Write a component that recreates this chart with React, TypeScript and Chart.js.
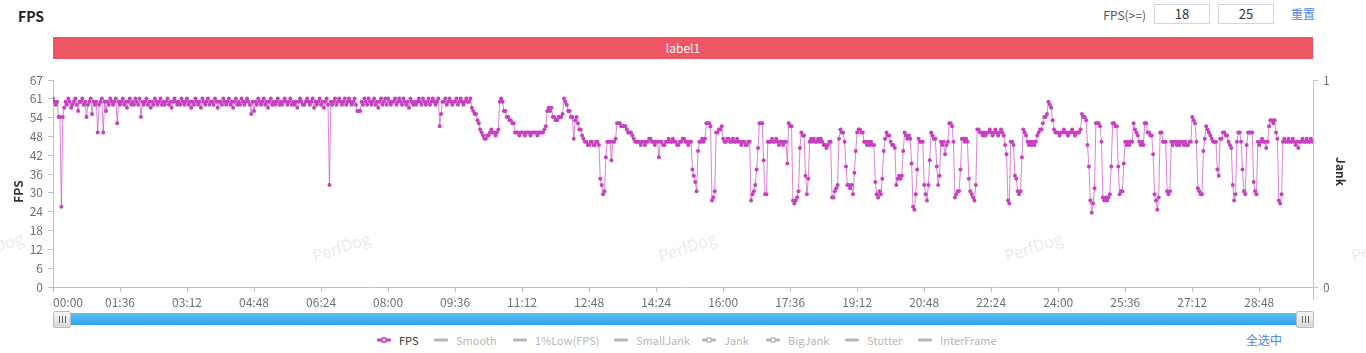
import React, { useEffect, useRef } from 'react';
import { Chart, registerables } from 'chart.js';

Chart.register(...registerables);

const FONT = '"Noto Sans CJK SC", "Noto Sans", sans-serif';

// ---------- data ----------
const SAMPLE_SECONDS = 2;
const X_MAX_SECONDS = 1805;

const X_TICK_SECONDS = [0, 96, 192, 288, 384, 480, 576, 672, 768, 864, 960, 1056, 1152, 1248, 1344, 1440, 1536, 1632, 1728];
const X_TICK_LABELS = ['00:00', '01:36', '03:12', '04:48', '06:24', '08:00', '09:36', '11:12', '12:48', '14:24', '16:00', '17:36', '19:12', '20:48', '22:24', '24:00', '25:36', '27:12', '28:48'];

const FPS_MAX = 67;
const FPS_TICK_LABELS = ['0', '6', '12', '18', '24', '30', '36', '42', '48', '54', '61', '67'];
const JANK_TICK_LABELS = ['0', '1'];

// one value every 2 seconds
const FPS_VALUES = [
  61, 60, 59, 60, 55, 55, 26, 55, 58, 60, 59, 61, 60, 58, 59, 60, 61, 59, 57, 60,
  60, 61, 59, 60, 55, 59, 60, 61, 56, 60, 59, 60, 50, 59, 60, 61, 50, 60, 57, 60,
  59, 61, 60, 59, 60, 61, 53, 60, 59, 60, 61, 59, 60, 58, 60, 61, 59, 60, 59, 61,
  60, 59, 61, 55, 60, 59, 60, 61, 59, 60, 58, 60, 59, 61, 60, 59, 60, 61, 59, 60,
  59, 60, 61, 59, 60, 58, 60, 61, 60, 59, 60, 59, 61, 60, 59, 60, 61, 59, 60, 58,
  60, 59, 61, 60, 59, 60, 58, 61, 60, 59, 60, 61, 59, 60, 60, 59, 61, 60, 58, 60,
  60, 59, 61, 60, 59, 60, 61, 59, 60, 58, 60, 61, 59, 60, 59, 61, 60, 59, 60, 61,
  60, 59, 56, 60, 57, 60, 59, 61, 60, 59, 60, 61, 59, 60, 58, 60, 61, 59, 60, 59,
  60, 61, 59, 60, 59, 60, 61, 60, 59, 60, 61, 59, 60, 59, 60, 58, 60, 61, 60, 59,
  59, 60, 61, 60, 59, 60, 61, 58, 60, 59, 60, 61, 59, 60, 58, 60, 61, 59, 33, 60,
  59, 60, 61, 59, 60, 61, 60, 59, 60, 61, 59, 60, 61, 60, 59, 60, 61, 59, 57, 57,
  57, 60, 59, 61, 60, 59, 61, 60, 59, 60, 61, 59, 60, 58, 60, 61, 59, 60, 61, 59,
  61, 60, 59, 60, 60, 61, 59, 60, 61, 60, 59, 61, 60, 59, 60, 58, 61, 60, 59, 60,
  59, 60, 61, 60, 59, 61, 60, 59, 60, 61, 59, 60, 61, 60, 59, 60, 61, 52, 56, 60,
  60, 61, 59, 60, 61, 60, 59, 60, 60, 61, 59, 60, 61, 60, 59, 60, 61, 60, 60, 61,
  58, 57, 56, 56, 54, 53, 51, 50, 49, 48, 48, 49, 49, 50, 51, 50, 50, 49, 50, 51,
  60, 61, 60, 57, 57, 55, 55, 54, 54, 53, 53, 50, 50, 50, 49, 50, 50, 50, 49, 50,
  50, 50, 49, 50, 50, 50, 50, 49, 50, 50, 50, 50, 51, 52, 57, 58, 57, 58, 55, 55,
  54, 54, 55, 55, 55, 56, 61, 60, 59, 57, 57, 55, 55, 48, 54, 55, 53, 51, 51, 49,
  48, 47, 47, 46, 46, 47, 47, 46, 46, 47, 47, 46, 35, 33, 30, 31, 42, 47, 47, 47,
  41, 47, 47, 48, 53, 53, 53, 52, 52, 52, 52, 51, 50, 50, 50, 49, 48, 47, 47, 47,
  47, 46, 47, 47, 46, 47, 47, 48, 48, 47, 47, 46, 47, 47, 42, 47, 47, 46, 46, 47,
  47, 48, 47, 47, 48, 47, 47, 46, 46, 47, 47, 48, 48, 47, 47, 46, 47, 47, 38, 36,
  34, 31, 44, 47, 47, 48, 47, 48, 53, 53, 53, 52, 28, 29, 31, 50, 50, 51, 51, 52,
  48, 47, 47, 48, 48, 47, 47, 48, 47, 47, 48, 47, 47, 46, 47, 47, 46, 46, 47, 47,
  28, 30, 31, 33, 38, 45, 53, 53, 53, 41, 30, 30, 47, 47, 47, 48, 47, 47, 48, 47,
  46, 47, 47, 46, 47, 47, 40, 53, 52, 52, 28, 27, 28, 29, 31, 45, 50, 49, 49, 36,
  30, 35, 47, 48, 47, 48, 47, 47, 48, 47, 48, 47, 46, 46, 45, 46, 47, 47, 29, 29,
  31, 32, 33, 48, 51, 50, 50, 47, 39, 33, 33, 32, 33, 30, 37, 44, 50, 51, 51, 50,
  50, 47, 47, 46, 47, 46, 47, 46, 46, 34, 30, 29, 31, 30, 35, 44, 48, 50, 49, 49,
  47, 46, 46, 45, 33, 35, 36, 35, 36, 44, 50, 49, 48, 49, 48, 40, 26, 25, 30, 38,
  48, 47, 47, 47, 33, 30, 28, 33, 41, 50, 49, 48, 48, 39, 33, 36, 47, 46, 47, 43,
  46, 47, 53, 53, 52, 47, 29, 30, 31, 31, 38, 48, 48, 47, 48, 47, 35, 31, 30, 29,
  28, 33, 51, 51, 50, 50, 49, 50, 49, 50, 50, 51, 50, 49, 50, 51, 50, 49, 50, 51,
  50, 49, 46, 43, 28, 27, 47, 47, 46, 36, 35, 31, 30, 31, 42, 51, 50, 49, 47, 46,
  47, 46, 47, 46, 47, 49, 50, 51, 51, 53, 55, 55, 56, 60, 59, 58, 54, 51, 50, 50,
  50, 49, 50, 50, 51, 50, 50, 49, 50, 50, 51, 50, 49, 50, 50, 50, 51, 56, 55, 55,
  54, 46, 39, 28, 24, 27, 32, 53, 53, 53, 52, 47, 29, 28, 29, 28, 29, 30, 39, 53,
  53, 52, 52, 39, 30, 31, 31, 40, 47, 46, 47, 46, 47, 47, 53, 51, 50, 49, 47, 46,
  47, 46, 53, 53, 50, 50, 49, 49, 43, 30, 28, 25, 29, 50, 50, 47, 47, 47, 31, 30,
  31, 47, 46, 47, 47, 46, 47, 46, 47, 47, 46, 47, 46, 46, 47, 47, 55, 54, 53, 47,
  32, 31, 30, 30, 44, 48, 52, 51, 50, 49, 48, 47, 47, 47, 38, 36, 48, 48, 50, 50,
  49, 49, 47, 46, 45, 33, 28, 30, 47, 50, 50, 47, 38, 31, 30, 46, 50, 50, 50, 50,
  34, 31, 30, 47, 46, 47, 48, 47, 47, 45, 47, 52, 54, 54, 53, 54, 50, 48, 28, 27,
  30, 47, 48, 47, 47, 48, 47, 47, 48, 47, 46, 47, 45, 47, 47, 48, 47, 47, 48, 47, 47, 48, 47,
];

const LEGEND_NAMES = ['FPS', 'Smooth', '1%Low(FPS)', 'SmallJank', 'Jank', 'BigJank', 'Stutter', 'InterFrame'];
const LEGEND_ACTIVE = [true, false, false, false, false, false, false, false];
const LEGEND_DOT = [true, false, false, false, true, true, false, false];
const LEGEND_LEFT = [377, 434, 513, 614, 702, 766, 845, 918];

const WATERMARK_TEXT = 'PerfDog';

// ---------- colours ----------
const FPS_COLOR = '#c640bf';
const FPS_LINE = 'rgba(204, 80, 196, 0.7)';
const AXIS_COLOR = '#bcc1cd';
const TICK_TEXT = '#6e7079';

const axisExtras = {
  id: 'axisExtras',
  afterDraw(chart: any) {
    const { ctx, chartArea } = chart;
    const { left, right, top, bottom } = chartArea;
    ctx.save();
    ctx.strokeStyle = AXIS_COLOR;
    ctx.lineWidth = 1;
    ctx.beginPath();
    ctx.moveTo(Math.round(right) + 0.5, bottom);
    ctx.lineTo(Math.round(right) + 0.5, bottom + 13);
    ctx.stroke();
    ctx.font = `bold 12px ${FONT}`;
    ctx.fillStyle = '#333';
    ctx.textAlign = 'center';
    ctx.textBaseline = 'middle';
    const mid = (top + bottom) / 2;
    ctx.save();
    ctx.translate(left - 35, mid + 8);
    ctx.rotate(-Math.PI / 2);
    ctx.fillText('FPS', 0, 0);
    ctx.restore();
    ctx.save();
    ctx.translate(right + 28, mid - 12);
    ctx.rotate(Math.PI / 2);
    ctx.fillText('Jank', 0, 0);
    ctx.restore();
    ctx.restore();
  },
};

function FpsChart() {
  const ref = useRef<HTMLCanvasElement | null>(null);
  useEffect(() => {
    if (!ref.current) return;
    const chart = new Chart(ref.current, {
      type: 'line',
      data: {
        datasets: [
          {
            label: 'FPS',
            data: FPS_VALUES.map((v, i) => ({ x: i * SAMPLE_SECONDS, y: v })),
            borderColor: FPS_LINE,
            borderWidth: 1,
            pointRadius: 2,
            pointBackgroundColor: FPS_COLOR,
            pointBorderColor: FPS_COLOR,
            pointBorderWidth: 0,
            tension: 0,
            xAxisID: 'x',
            yAxisID: 'y',
          },
        ],
      },
      options: {
        animation: false,
        responsive: false,
        maintainAspectRatio: false,
        layout: { padding: { left: 0, right: 0, top: 18, bottom: 0 } },
        plugins: { legend: { display: false }, tooltip: { enabled: false } },
        scales: {
          x: {
            type: 'linear',
            min: 0,
            max: X_MAX_SECONDS,
            afterBuildTicks: (s: any) => {
              s.ticks = [...X_TICK_SECONDS, X_MAX_SECONDS].map((v) => ({ value: v }));
            },
            afterFit: (s: any) => {
              s.height = 35;
            },
            ticks: {
              autoSkip: false,
              maxRotation: 0,
              minRotation: 0,
              align: 'inner',
              padding: 3,
              color: TICK_TEXT,
              font: { family: FONT, size: 12 },
              callback: (_v: any, i: number) => X_TICK_LABELS[i] ?? '',
            },
            grid: { drawOnChartArea: false, drawTicks: true, tickLength: 5, color: AXIS_COLOR },
            border: { color: AXIS_COLOR },
          },
          y: {
            type: 'linear',
            position: 'left',
            min: 0,
            max: FPS_MAX,
            afterBuildTicks: (s: any) => {
              const n = FPS_TICK_LABELS.length - 1;
              s.ticks = FPS_TICK_LABELS.map((_l, i) => ({ value: (i * FPS_MAX) / n }));
            },
            afterFit: (s: any) => {
              s.width = 53;
            },
            ticks: {
              padding: 5,
              color: TICK_TEXT,
              font: { family: FONT, size: 12 },
              callback: (_v: any, i: number) => FPS_TICK_LABELS[i],
            },
            grid: { drawOnChartArea: false, drawTicks: true, tickLength: 5, color: AXIS_COLOR },
            border: { color: AXIS_COLOR },
          },
          y1: {
            type: 'linear',
            axis: 'y',
            position: 'right',
            min: 0,
            max: 1,
            afterBuildTicks: (s: any) => {
              s.ticks = JANK_TICK_LABELS.map((_l, i) => ({ value: i }));
            },
            afterFit: (s: any) => {
              s.width = 53;
            },
            ticks: {
              padding: 5,
              color: TICK_TEXT,
              font: { family: FONT, size: 12 },
              callback: (_v: any, i: number) => JANK_TICK_LABELS[i],
            },
            grid: { drawOnChartArea: false, drawTicks: true, tickLength: 5, color: AXIS_COLOR },
            border: { color: AXIS_COLOR },
          },
        },
      } as any,
      plugins: [axisExtras],
    });
    return () => chart.destroy();
  }, []);
  return (
    <canvas
      ref={ref}
      width={1366}
      height={260}
      style={{ position: 'absolute', left: 0, top: 62, width: 1366, height: 260 }}
    />
  );
}

function LegendIcon({ color, dot }: { color: string; dot: boolean }) {
  return (
    <svg width={14} height={8} style={{ display: 'block' }}>
      <rect x={0} y={2.5} width={14} height={3} rx={1} fill={color} />
      {dot ? <circle cx={7} cy={4} r={2.3} fill="#fff" stroke={color} strokeWidth={1.5} /> : null}
    </svg>
  );
}

export default function App() {
  const watermarkCenters = [-6, 341, 687, 1033, 1380];
  return (
    <div
      style={{
        position: 'fixed',
        left: 0,
        top: 0,
        width: 1366,
        height: 353,
        background: '#fff',
        fontFamily: FONT,
        overflow: 'hidden',
      }}
    >
      {watermarkCenters.map((cx, i) => (
        <div
          key={i}
          style={{
            position: 'absolute',
            left: cx - 40,
            top: 236,
            width: 80,
            textAlign: 'center',
            fontSize: 16,
            color: '#ececec',
            transform: 'rotate(-18deg)',
            lineHeight: '20px',
            whiteSpace: 'nowrap',
          }}
        >
          {WATERMARK_TEXT}
        </div>
      ))}

      <div style={{ position: 'absolute', left: 18, top: 6, fontSize: 14, fontWeight: 'bold', color: '#222', lineHeight: '20px' }}>
        FPS
      </div>

      <div style={{ position: 'absolute', left: 1090, width: 56, top: 5, fontSize: 12, color: '#555', lineHeight: '20px', textAlign: 'right' }}>
        FPS(&gt;=)
      </div>
      {[
        { left: 1154, text: '18' },
        { left: 1218, text: '25' },
      ].map((b) => (
        <div
          key={b.text}
          style={{
            position: 'absolute',
            left: b.left,
            top: 4,
            width: 54,
            height: 18,
            border: '1px solid #d3d6dd',
            textAlign: 'center',
            fontSize: 13,
            lineHeight: '18px',
            color: '#333',
          }}
        >
          {b.text}
        </div>
      ))}
      <div style={{ position: 'absolute', left: 1291, top: 4, fontSize: 12, color: '#4e83f5', lineHeight: '20px' }}>重置</div>

      <div
        style={{
          position: 'absolute',
          left: 53,
          top: 37,
          width: 1260,
          height: 22,
          background: '#ee5665',
          color: '#fff',
          textAlign: 'center',
          fontSize: 12,
          lineHeight: '22px',
        }}
      >
        label1
      </div>

      <FpsChart />

      <div
        style={{
          position: 'absolute',
          left: 53,
          top: 313,
          width: 1260,
          height: 12,
          background: 'linear-gradient(#5fbff5, #2fa3eb)',
        }}
      />
      {[53, 1296].map((hx, i) => (
        <div
          key={i}
          style={{
            position: 'absolute',
            left: hx,
            top: 311,
            width: 16,
            height: 15,
            border: '1px solid #b9bcc2',
            borderRadius: 2,
            background: 'linear-gradient(#f7f7f7, #d9d9d9)',
          }}
        >
          <div
            style={{
              position: 'absolute',
              left: 5,
              top: 4,
              width: 7,
              height: 7,
              background: 'repeating-linear-gradient(90deg, #666 0px, #666 1px, transparent 1px, transparent 3px)',
            }}
          />
        </div>
      ))}

      {LEGEND_NAMES.map((name, i) => (
        <div
          key={name}
          style={{
            position: 'absolute',
            left: LEGEND_LEFT[i],
            top: 331,
            height: 18,
            display: 'flex',
            alignItems: 'center',
            gap: 8,
            fontSize: 11,
            whiteSpace: 'nowrap',
          }}
        >
          <LegendIcon color={LEGEND_ACTIVE[i] ? FPS_COLOR : '#b3b6c0'} dot={LEGEND_DOT[i]} />
          <span style={{ color: LEGEND_ACTIVE[i] ? '#333' : '#b8b8b8', lineHeight: '18px' }}>{name}</span>
        </div>
      ))}
      <div style={{ position: 'absolute', left: 1246, top: 331, fontSize: 12, color: '#4e83f5', lineHeight: '18px' }}>全选中</div>
    </div>
  );
}
